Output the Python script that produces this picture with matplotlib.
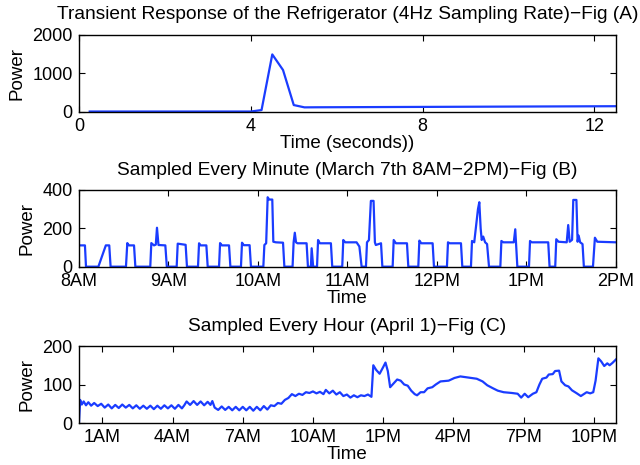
import numpy as np
import matplotlib
matplotlib.use("Agg")
import matplotlib.pyplot as plt

plt.rcParams['font.family'] = ['Liberation Sans', 'DejaVu Sans']

LINE_COLOR = '#1a3cff'

# Fig (A): 4 Hz samples starting at t = 0.25 s
power_a = [2, 2, 2, 2, 2, 2, 2, 2, 2, 2, 2, 2, 2, 2, 2, 2,
           40, 1485, 1080, 170, 110,
           112, 113, 114, 115, 116, 117, 118, 119, 120, 121,
           122, 123, 124, 125, 126, 127, 128, 129, 130, 131,
           132, 133, 134, 135, 136, 137, 138, 139, 140]
xticks_a = [0, 4, 8, 12]

# Fig (B): minutes after 8AM, power
minutes_b = [0, 4, 4.7, 13, 18, 20.3, 21.2, 31.5, 32.4, 33.5, 36.9, 37.8,
             47.8, 48.5, 50.3, 51.5, 52.3, 53.3, 57.9, 58.9,
             65.5, 66.2, 71.5, 72.4, 79.8, 80.5, 81.5, 85.4, 86.3,
             93.9, 94.6, 95.8, 100.6, 101.5, 108.6, 109.3, 110.5, 114.4, 115.3,
             123.6, 124.3, 125.5, 126.5, 127.5, 129.6, 130.3, 132, 136.8, 137.7,
             143.2, 143.9, 144.7, 145.5, 146.5, 152.6, 153.5, 155.5, 156, 157,
             159.6, 160.3, 161.5, 168.9, 169.8, 176.5, 177.2, 178.5, 186.1, 188, 189.5,
             192.4, 193.1, 194.4, 195.7, 197.5, 198.4, 199, 202.5, 203.4,
             210.3, 211, 212.5, 219.9, 220.8, 227.5, 228.2, 229.5, 237.1, 238,
             246.7, 247.4, 248.5, 256.1, 257,
             262.8, 263.5, 265, 267.5, 268.4, 269.3, 270, 271, 272.3, 273.6, 274.9,
             282.5, 283.2, 284.5, 291.5, 292.5, 293, 293.9,
             301.7, 302.4, 303.5, 314.6, 315.5,
             319.3, 320, 321.5, 327, 328, 329, 330.6, 331.4, 333.5, 334.3, 335, 336,
             337.6, 338.5, 344.6, 345.9, 347.5, 360]
power_b = [111, 111, 0, 0, 111, 111, 0, 0, 123, 111, 111, 0,
           0, 123, 111, 115, 203, 113, 111, 0,
           0, 120, 114, 0, 0, 122, 111, 111, 0,
           0, 123, 111, 111, 0, 0, 125, 112, 112, 0,
           0, 113, 122, 362, 350, 350, 130, 127, 125, 0,
           0, 127, 177, 127, 122, 122, 0, 0, 96, 0,
           0, 139, 122, 122, 0, 0, 139, 127, 127, 105, 0,
           0, 127, 139, 343, 343, 127, 113, 122, 0,
           0, 139, 122, 122, 0, 0, 136, 122, 122, 0,
           0, 127, 122, 122, 0,
           0, 134, 127, 300, 336, 200, 139, 157, 127, 118, 0,
           0, 134, 127, 127, 195, 127, 0,
           0, 134, 127, 127, 0,
           0, 143, 130, 127, 217, 130, 140, 348, 348, 130, 162, 127,
           118, 0, 0, 151, 130, 127]
xlabels_b = ['8AM', '9AM', '10AM', '11AM', '12PM', '1PM', '2PM']

# Fig (C): hours after midnight, power
hours_c = [0.00, 0.05, 0.12, 0.20, 0.30, 0.40, 0.52, 0.65, 0.80, 0.95,
           1.10, 1.25, 1.40, 1.55, 1.70, 1.85, 2.00, 2.15, 2.30, 2.45,
           2.60, 2.75, 2.90, 3.05, 3.20, 3.35, 3.50, 3.65, 3.80, 3.95,
           4.10, 4.25, 4.40, 4.50, 4.60, 4.75, 4.90, 5.05, 5.20, 5.35,
           5.50, 5.62, 5.70, 5.80, 5.95, 6.10, 6.25, 6.40, 6.55, 6.70,
           6.85, 7.00, 7.15, 7.30, 7.45, 7.60, 7.75, 7.90, 8.05, 8.20,
           8.35, 8.50, 8.65, 8.80, 8.95, 9.10, 9.25, 9.40, 9.55, 9.70,
           9.85, 10.00, 10.15, 10.30, 10.45, 10.55, 10.70, 10.85, 11.00, 11.15,
           11.30, 11.45, 11.60, 11.75, 11.90, 12.05, 12.20, 12.35, 12.50, 12.58,
           12.70, 12.85, 13.00, 13.10, 13.20, 13.30, 13.45, 13.60, 13.75, 13.90,
           14.05, 14.20, 14.35, 14.45, 14.60, 14.75, 14.90, 15.10, 15.25, 15.45,
           15.80, 16.05, 16.30, 16.65, 17.00, 17.25, 17.45, 17.70, 17.90, 18.15,
           18.50, 18.75, 18.90, 19.05, 19.20, 19.40, 19.55, 19.68, 19.80, 19.98,
           20.08, 20.25, 20.35, 20.52, 20.62, 20.78, 20.92, 21.07, 21.28, 21.45,
           21.60, 21.70, 21.85, 21.98, 22.08, 22.20, 22.32, 22.45, 22.58, 22.68,
           22.80, 22.95]
power_c = [0, 60, 48, 56, 46, 54, 45, 52, 44, 50,
           40, 48, 38, 47, 39, 48, 40, 47, 38, 46,
           37, 45, 37, 45, 36, 45, 37, 46, 38, 46,
           37, 47, 38, 46, 56, 47, 57, 47, 56, 46,
           55, 47, 57, 40, 34, 43, 34, 42, 33, 42,
           33, 42, 33, 42, 32, 42, 33, 44, 35, 46,
           44, 52, 50, 60, 65, 75, 70, 76, 73, 80,
           78, 82, 77, 81, 75, 86, 77, 84, 74, 80,
           70, 74, 66, 72, 67, 72, 70, 74, 68, 150,
           138, 128, 145, 157, 135, 93, 103, 113, 110, 100,
           97, 84, 75, 72, 80, 80, 90, 93, 100, 108,
           110, 117, 121, 118, 115, 108, 98, 90, 84, 80,
           78, 76, 66, 76, 67, 76, 80, 100, 115, 118,
           126, 127, 135, 136, 108, 98, 95, 85, 77, 70,
           76, 80, 77, 80, 110, 168, 160, 148, 155, 150,
           156, 165]
xticks_c = [1, 4, 7, 10, 13, 16, 19, 22]
xlabels_c = ['1AM', '4AM', '7AM', '10AM', '1PM', '4PM', '7PM', '10PM']

TITLE_SIZE = 13.8
LABEL_SIZE = 13.5


def style_axes(ax):
    ax.tick_params(direction='in', length=4, width=0.8, labelsize=13,
                   top=True, right=True, pad=4.5)
    for sp in ax.spines.values():
        sp.set_linewidth(1.0)


fig = plt.figure(figsize=(6.4, 4.65), dpi=100)

# Fig (A)
time_a = np.arange(1, len(power_a) + 1) / 4.0
ax1 = fig.add_axes([0.1234, 0.760, 0.839, 0.1656])
ax1.plot(time_a, power_a, color=LINE_COLOR, linewidth=1.6)
ax1.set_xlim(0, 12.5)
ax1.set_ylim(0, 2000)
ax1.set_xticks(xticks_a)
ax1.set_yticks([0, 1000, 2000])
ax1.set_xlabel('Time (seconds))', fontsize=LABEL_SIZE, labelpad=0)
ax1.set_ylabel('Power', fontsize=LABEL_SIZE, labelpad=5)
ax1.set_title('Transient Response of the Refrigerator (4Hz Sampling Rate)\u2212Fig (A)',
              fontsize=TITLE_SIZE, pad=11)
style_axes(ax1)

# Fig (B)
ax2 = fig.add_axes([0.1234, 0.4265, 0.839, 0.165])
ax2.plot(minutes_b, power_b, color=LINE_COLOR, linewidth=1.6)
ax2.set_xlim(0, 360)
ax2.set_ylim(0, 400)
ax2.set_xticks([60 * i for i in range(len(xlabels_b))])
ax2.set_xticklabels(xlabels_b)
ax2.set_yticks([0, 200, 400])
ax2.set_xlabel('Time', fontsize=LABEL_SIZE, labelpad=0)
ax2.set_ylabel('Power', fontsize=LABEL_SIZE, labelpad=5)
ax2.set_title('Sampled Every Minute (March 7th 8AM\u22122PM)\u2212Fig (B)',
              fontsize=TITLE_SIZE, pad=11)
style_axes(ax2)

# Fig (C)
ax3 = fig.add_axes([0.1234, 0.0903, 0.839, 0.1656])
ax3.plot(hours_c, power_c, color=LINE_COLOR, linewidth=1.6)
ax3.set_xlim(0, 22.95)
ax3.set_ylim(0, 200)
ax3.set_xticks(xticks_c)
ax3.set_xticklabels(xlabels_c)
ax3.set_yticks([0, 100, 200])
ax3.set_xlabel('Time', fontsize=LABEL_SIZE, labelpad=0)
ax3.set_ylabel('Power', fontsize=LABEL_SIZE, labelpad=5)
ax3.set_title('Sampled Every Hour (April 1)\u2212Fig (C)', fontsize=TITLE_SIZE, pad=11)
style_axes(ax3)

fig.savefig('out.png', dpi=100)
